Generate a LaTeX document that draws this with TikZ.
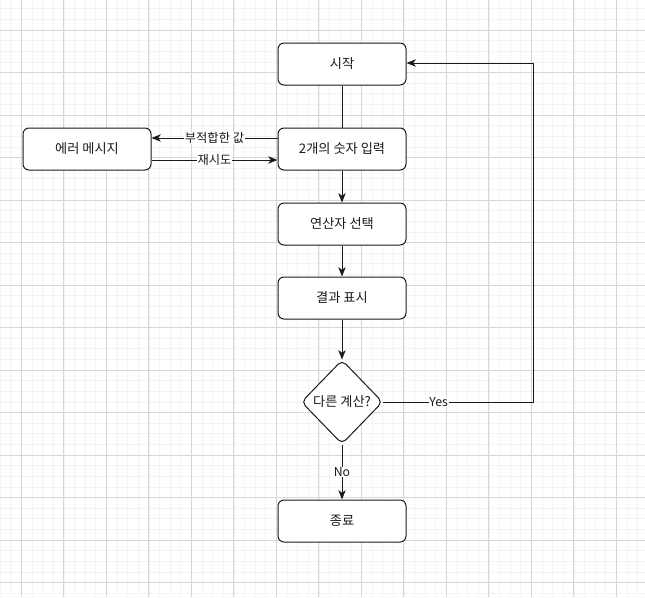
\documentclass[tikz,border=0pt]{standalone}
\usepackage{fontspec}
\setmainfont{Noto Sans CJK KR}
\usetikzlibrary{arrows.meta,shapes.geometric}
\definecolor{minorgrid}{HTML}{F3F3F3}
\definecolor{majorgrid}{HTML}{D6D6D6}
\definecolor{ink}{HTML}{1A1A1A}
\tikzset{
  box/.style={draw=ink, line width=0.75pt, rounded corners=4.5pt, fill=white,
    minimum width=96pt, minimum height=31.5pt, inner sep=0pt, font=\fontsize{9.9}{12}\selectfont, text=ink},
  decision/.style={draw=ink, line width=0.75pt, diamond, rounded corners=4pt, fill=white,
    minimum width=61pt, minimum height=63pt, inner sep=0pt, font=\fontsize{9.9}{12}\selectfont, text=ink},
  conn/.style={draw=ink, line width=0.75pt},
  arr/.style={conn, -{Stealth[length=7pt,width=5.5pt,inset=2pt]}},
  lbl/.style={fill=white, inner sep=0.5pt, font=\fontsize{9.2}{11}\selectfont, text=ink},
  minor/.style={draw=minorgrid, line width=0.4pt},
  major/.style={draw=majorgrid, line width=0.5pt}
}
\begin{document}
\begin{tikzpicture}[x=0.75pt, y=-0.75pt]
\useasboundingbox (0,0) rectangle (645,597);
\fill[white] (0,0) rectangle (645,597);
% grid
\foreach \i in {0,...,60} \draw[minor] ({0.05+10.625*\i},0) -- ({0.05+10.625*\i},597);
\foreach \i in {0,...,56} \draw[minor] (0,{8.75+10.625*\i}) -- (645,{8.75+10.625*\i});
\foreach \i in {0,...,14} \draw[major] ({21.3+42.5*\i},0) -- ({21.3+42.5*\i},597);
\foreach \i in {0,...,13} \draw[major] (0,{30+42.5*\i}) -- (645,{30+42.5*\i});
% nodes
\node[box] (start) at (342,64) {시작};
\node[box] (input) at (342,149) {2개의 숫자 입력};
\node[box] (err) at (87,149) {에러 메시지};
\node[box] (op) at (342,224) {연산자 선택};
\node[box] (res) at (342,298) {결과 표시};
\node[decision] (dec) at (342,402) {다른 계산?};
\node[box] (fin) at (342,521) {종료};
\coordinate (c1) at (533,402);
\coordinate (c2) at (533,63);
% connectors
\draw[conn] (start) -- (input);
\draw[arr] (input) -- (op);
\draw[arr] (op) -- (res);
\draw[arr] (res) -- (dec);
\draw[arr] (dec) -- node[lbl]{No} (fin);
\draw[arr] (dec.east) -- node[lbl, pos=0.37]{Yes} (c1) -- (c2) -- (start.east |- c2);
\draw[arr] ([yshift=8.25pt]input.west) -- node[lbl]{부적합한 값} ([yshift=8.25pt]err.east);
\draw[arr] ([yshift=-8.25pt]err.east) -- node[lbl]{재시도} ([yshift=-8.25pt]input.west);
\end{tikzpicture}
\end{document}
